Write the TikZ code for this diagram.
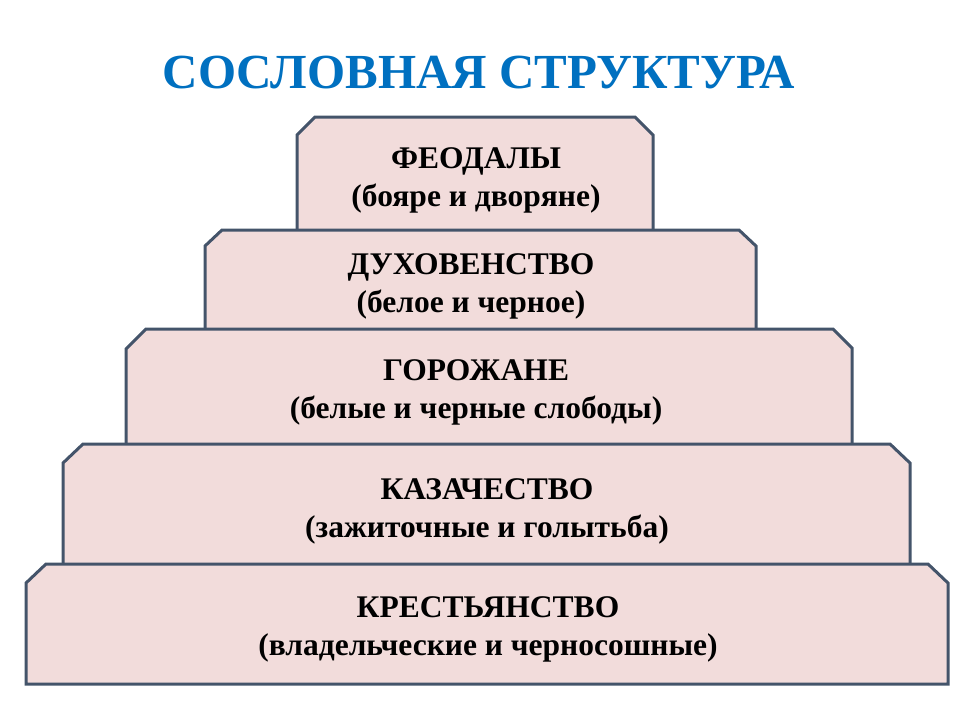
\documentclass[tikz,border=0pt]{standalone}
\usepackage{fontspec}
\setmainfont{LiberationSerif}[Extension=.ttf,UprightFont=*-Regular,BoldFont=*-Bold]
\definecolor{boxfill}{HTML}{F2DCDB}
\definecolor{boxline}{HTML}{44546A}
\definecolor{titleblue}{HTML}{0070C0}
\begin{document}
\begin{tikzpicture}[x=1pt,y=-1pt,
  tier/.style={fill=boxfill,draw=boxline,line width=3pt,line join=miter},
  label/.style={font=\bfseries\fontsize{31.5}{38}\selectfont,align=center,text=black,inner sep=0pt},
  titletext/.style={font=\bfseries\fontsize{49}{50}\selectfont,text=titleblue,inner sep=0pt}]
\useasboundingbox (0,0) rectangle (960,720);
% tier 1
\draw[tier] (297,231) -- (297,135) -- (315,117) -- (635,117) -- (653,135) -- (653,231);
% tier 2
\draw[tier] (205,330) -- (205,246) -- (222,230) -- (739,230) -- (756,246) -- (756,330);
% tier 3
\draw[tier] (126,444) -- (126,349) -- (146,329) -- (833,329) -- (852,348) -- (852,444);
% tier 4
\draw[tier] (63,564) -- (63,463) -- (83,444) -- (890,444) -- (910,463) -- (910,564);
% tier 5
\draw[tier] (26,684) -- (26,583) -- (46,564) -- (928,564) -- (948,583) -- (948,684) -- cycle;

\node[titletext] (title) at (479,73) {СОСЛОВНАЯ СТРУКТУРА};
\node[label] (t1) at (476,180) {ФЕОДАЛЫ\\(бояре и дворяне)};
\node[label] (t2) at (471,286) {ДУХОВЕНСТВО\\(белое и черное)};
\node[label] (t3) at (476,392) {ГОРОЖАНЕ\\(белые и черные слободы)};
\node[label] (t4) at (487,511) {КАЗАЧЕСТВО\\(зажиточные и голытьба)};
\node[label] (t5) at (488,629) {КРЕСТЬЯНСТВО\\(владельческие и черносошные)};
\end{tikzpicture}
\end{document}
